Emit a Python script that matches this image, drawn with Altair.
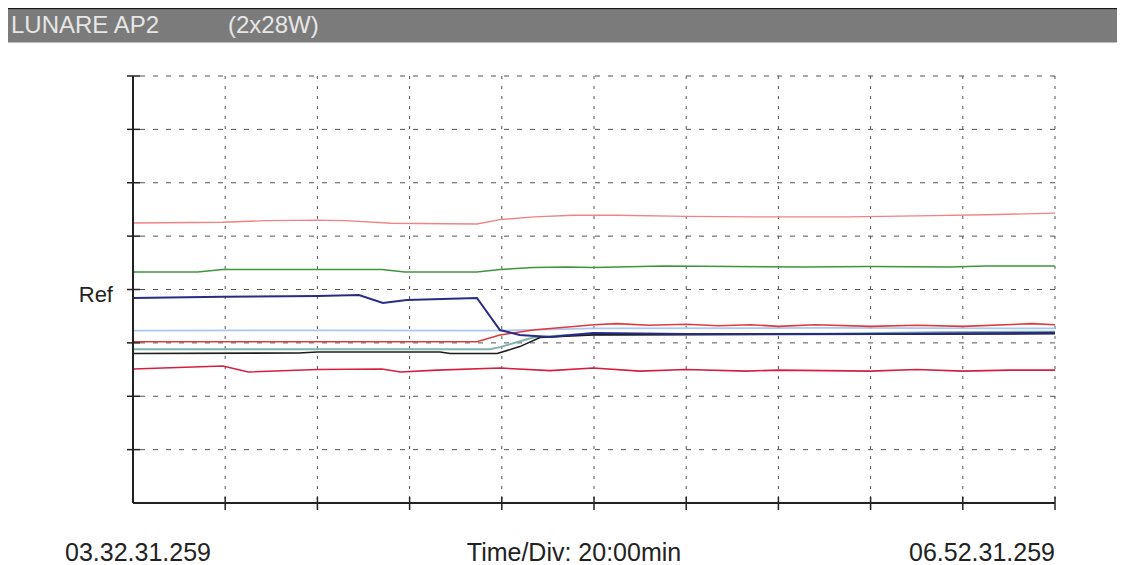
import altair as alt
import pandas as pd

# ---------------- data (minutes from 03.32.31.259, value in divisions; Ref = 4) -------------
pink_t = [0, 19.5, 29, 40, 46, 56, 74.6, 79.6, 87, 95.5, 105, 120, 135, 155, 170, 185, 200]
pink_v = [5.246, 5.259, 5.29, 5.30, 5.29, 5.24, 5.227, 5.31, 5.36, 5.39, 5.39, 5.37, 5.36, 5.36, 5.38, 5.40, 5.43]

green_t = [0, 14, 19.5, 54, 59, 74.6, 79.6, 86.8, 94, 100, 115, 130, 145, 160, 177, 185, 200]
green_v = [4.33, 4.33, 4.375, 4.375, 4.33, 4.33, 4.375, 4.41, 4.42, 4.41, 4.44, 4.43, 4.42, 4.43, 4.42, 4.44, 4.44]

lblue_t = [0, 40, 79.6, 100, 150, 200]
lblue_v = [3.228, 3.235, 3.23, 3.27, 3.28, 3.27]

teal_t = [0, 77.4, 79.6, 86.8, 95, 120, 150, 175, 200]
teal_v = [2.88, 2.88, 2.92, 3.10, 3.15, 3.16, 3.17, 3.20, 3.21]

red_t = [0, 74.6, 79.6, 86.8, 100, 105, 112, 120, 127, 134, 140, 148, 160, 170, 180, 195, 200]
red_v = [3.022, 3.022, 3.148, 3.241, 3.34, 3.36, 3.33, 3.35, 3.32, 3.34, 3.31, 3.34, 3.31, 3.33, 3.31, 3.36, 3.34]

crim_t = [0, 19.5, 25, 40, 54, 58, 66, 79.6, 90.5, 99.8, 110, 120, 133, 140, 150, 160, 170, 180, 190, 200]
crim_v = [2.51, 2.567, 2.454, 2.50, 2.51, 2.454, 2.49, 2.529, 2.48, 2.53, 2.47, 2.50, 2.47, 2.49, 2.48, 2.47, 2.50, 2.47, 2.49, 2.49]

black_t = [0, 36, 40, 66.6, 68.8, 79, 83.9, 88.3, 99.8, 200]
black_v = [2.80, 2.81, 2.829, 2.829, 2.80, 2.80, 2.93, 3.10, 3.15, 3.17]

navy_t = [0, 19.5, 40, 49, 54.2, 59.4, 74.6, 79.6, 83.9, 90.5, 99.8, 120, 160, 200]
navy_v = [3.841, 3.866, 3.878, 3.897, 3.747, 3.803, 3.841, 3.241, 3.148, 3.11, 3.185, 3.166, 3.166, 3.19]

x_grid = [20, 40, 60, 80, 100, 120, 140, 160, 180, 200]
y_grid = [1, 2, 3, 4, 5, 6, 7, 8]

title_left = "LUNARE AP2"
title_right = "(2x28W)"
start_label = "03.32.31.259"
end_label = "06.52.31.259"
div_label = "Time/Div: 20:00min"
ref_label = "Ref"

# ---------------- layout ----------------
W, H = 922, 427
FONT = "Liberation Sans"

x_scale = alt.Scale(domain=[0, 200], nice=False, zero=False)
y_scale = alt.Scale(domain=[0, 8], nice=False, zero=False)

layers = []

# title bar
bar_df = pd.DataFrame({"a": [0]})
layers.append(alt.Chart(bar_df).mark_rect(color="#7b7b7b").encode(
    x=alt.value(-125), x2=alt.value(984), y=alt.value(-66.5), y2=alt.value(-33.5)))
layers.append(alt.Chart(bar_df).mark_rule(color="#1a1a1a", strokeWidth=2).encode(
    x=alt.value(-125), x2=alt.value(984), y=alt.value(-67.5)))
layers.append(alt.Chart(pd.DataFrame({"lab": [title_left]})).mark_text(
    align="left", baseline="middle", font=FONT, fontSize=24, color="#e6e6e6").encode(
    x=alt.value(-122), y=alt.value(-50), text="lab:N"))
layers.append(alt.Chart(pd.DataFrame({"lab": [title_right]})).mark_text(
    align="left", baseline="middle", font=FONT, fontSize=24, color="#e6e6e6").encode(
    x=alt.value(95), y=alt.value(-50), text="lab:N"))

# grid
layers.append(alt.Chart(pd.DataFrame({"v": y_grid})).mark_rule(
    color="#555555", strokeWidth=1, strokeDash=[5, 8]).encode(
    y=alt.Y("v:Q", scale=y_scale, axis=None)))
layers.append(alt.Chart(pd.DataFrame({"t": x_grid})).mark_rule(
    color="#555555", strokeWidth=1, strokeDash=[3, 7]).encode(
    x=alt.X("t:Q", scale=x_scale, axis=None)))

# series
series = [
    (pink_t, pink_v, "#f08484", 1.4),
    (green_t, green_v, "#3c963c", 1.5),
    (lblue_t, lblue_v, "#a9c8f0", 1.8),
    (teal_t, teal_v, "#7fb2aa", 2.0),
    (red_t, red_v, "#e03a3a", 1.6),
    (crim_t, crim_v, "#d61e42", 1.6),
    (black_t, black_v, "#1c1c1c", 1.6),
    (navy_t, navy_v, "#282c86", 2.0),
]
for ts, vs, col, sw in series:
    df = pd.DataFrame({"t": ts, "v": vs})
    layers.append(alt.Chart(df).mark_line(color=col, strokeWidth=sw).encode(
        x=alt.X("t:Q", scale=x_scale, axis=None),
        y=alt.Y("v:Q", scale=y_scale, axis=None)))

# axes lines and ticks
layers.append(alt.Chart(pd.DataFrame({"v": y_grid})).mark_rule(color="#222222", strokeWidth=1.5).encode(
    y=alt.Y("v:Q", scale=y_scale, axis=None), x=alt.value(-6), x2=alt.value(7)))
layers.append(alt.Chart(pd.DataFrame({"t": x_grid})).mark_rule(color="#222222", strokeWidth=1.5).encode(
    x=alt.X("t:Q", scale=x_scale, axis=None), y=alt.value(H - 6), y2=alt.value(H + 7)))
layers.append(alt.Chart(bar_df).mark_rule(color="#222222", strokeWidth=2).encode(
    x=alt.value(0), y=alt.value(0), y2=alt.value(H)))
layers.append(alt.Chart(bar_df).mark_rule(color="#222222", strokeWidth=2).encode(
    x=alt.value(0), x2=alt.value(W), y=alt.value(H)))

# labels
layers.append(alt.Chart(pd.DataFrame({"lab": [ref_label], "v": [4]})).mark_text(
    align="right", baseline="middle", font=FONT, fontSize=22, color="#222222", dy=5).encode(
    x=alt.value(-20), y=alt.Y("v:Q", scale=y_scale, axis=None), text="lab:N"))
layers.append(alt.Chart(pd.DataFrame({"lab": [start_label]})).mark_text(
    align="left", baseline="middle", font=FONT, fontSize=25, color="#222222").encode(
    x=alt.value(-68), y=alt.value(H + 50), text="lab:N"))
layers.append(alt.Chart(pd.DataFrame({"lab": [div_label]})).mark_text(
    align="center", baseline="middle", font=FONT, fontSize=25, color="#222222").encode(
    x=alt.value(441), y=alt.value(H + 50), text="lab:N"))
layers.append(alt.Chart(pd.DataFrame({"lab": [end_label]})).mark_text(
    align="right", baseline="middle", font=FONT, fontSize=25, color="#222222").encode(
    x=alt.value(W), y=alt.value(H + 50), text="lab:N"))

chart = alt.layer(*layers).properties(
    width=W, height=H,
    autosize=alt.AutoSizeParams(type="none"),
    padding={"left": 125, "top": 68, "right": 62, "bottom": 72},
    background="white",
).configure_view(stroke=None)

chart.save("out.html", embed_options={"renderer": "svg", "actions": False})
